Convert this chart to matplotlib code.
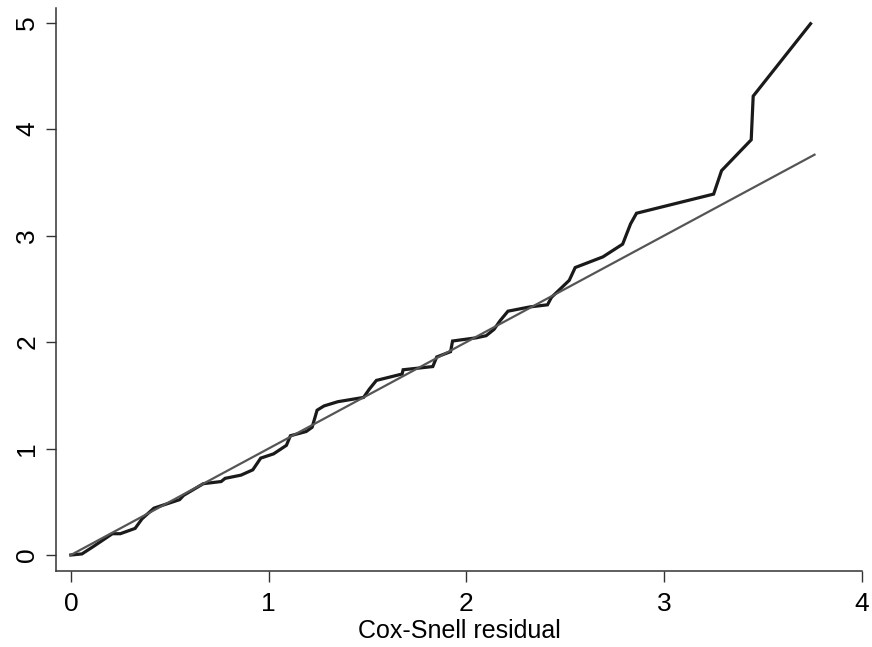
import matplotlib.pyplot as plt

# Cumulative hazard of Cox-Snell residuals
residual = [0.0, 0.056, 0.114, 0.21, 0.25, 0.325, 0.36, 0.42, 0.55, 0.57, 0.67,
            0.76, 0.78, 0.86, 0.92, 0.96, 1.025, 1.09, 1.11, 1.19, 1.22, 1.245,
            1.28, 1.35, 1.48, 1.51, 1.545, 1.675, 1.68, 1.83, 1.85, 1.92, 1.93,
            2.05, 2.10, 2.14, 2.17, 2.21, 2.32, 2.41, 2.43, 2.52, 2.55, 2.69,
            2.79, 2.83, 2.86, 3.25, 3.29, 3.44, 3.45, 3.74]
cum_hazard = [0.0, 0.01, 0.08, 0.20, 0.20, 0.25, 0.34, 0.44, 0.52, 0.56, 0.67,
              0.69, 0.72, 0.75, 0.80, 0.91, 0.95, 1.03, 1.12, 1.16, 1.20, 1.36,
              1.40, 1.44, 1.48, 1.56, 1.64, 1.70, 1.74, 1.77, 1.86, 1.91, 2.01,
              2.04, 2.06, 2.12, 2.20, 2.29, 2.33, 2.35, 2.42, 2.58, 2.70, 2.80,
              2.92, 3.11, 3.21, 3.39, 3.61, 3.90, 4.31, 4.99]

# reference line y = x
ref_x = [0.0, 3.76]
ref_y = [0.0, 3.76]

x_ticks = [0, 1, 2, 3, 4]
y_ticks = [0, 1, 2, 3, 4, 5]

plt.rcParams['font.family'] = ['Liberation Sans', 'DejaVu Sans']

fig = plt.figure(figsize=(8.72, 6.47), dpi=100)
ax = fig.add_axes([0.064, 0.1175, 0.9245, 0.8705])

ax.plot(residual, cum_hazard, color='#1a1a1a', linewidth=2.3, solid_joinstyle='miter')
ax.plot(ref_x, ref_y, color='#555555', linewidth=1.6)

ax.set_xlim(-0.076, 4.0)
ax.set_ylim(-0.15, 5.14)
ax.set_xticks(x_ticks)
ax.set_yticks(y_ticks)
ax.set_xticklabels([str(t) for t in x_ticks])
ax.set_yticklabels([str(t) for t in y_ticks], rotation=90, va='center')

for side in ['top', 'right']:
    ax.spines[side].set_visible(False)
for side in ['left', 'bottom']:
    ax.spines[side].set_color('#333333')
    ax.spines[side].set_linewidth(1.1)

ax.tick_params(axis='x', length=8, width=1, color='#333333', pad=7, labelsize=19)
ax.tick_params(axis='y', length=7, width=1, color='#333333', pad=5, labelsize=19)

ax.set_xlabel('Cox-Snell residual', fontsize=18, labelpad=2)

fig.savefig('out.png', dpi=100)
